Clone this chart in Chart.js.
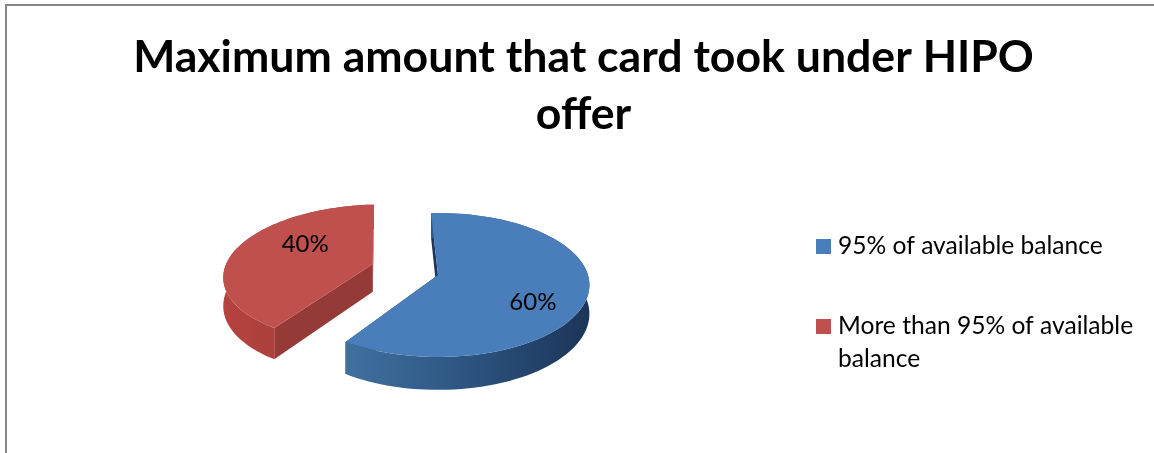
<!DOCTYPE html>
<html lang="en">
<head>
  <meta charset="UTF-8" />
  <title>Maximum amount that card took under HIPO offer</title>
  <style>
    html, body { margin: 0; padding: 0; background: #fff; overflow: hidden; }
    .frame { position: absolute; left: 5px; top: 4px; width: 1153px; height: 450px; border: 2px solid #868686; }
    canvas { display: block; }
  </style>
</head>
<body>
  <div class="frame"><canvas id="cardChart" width="1153" height="450"></canvas></div>

  <script src="https://cdn.jsdelivr.net/npm/chart.js"></script>
  <script>
    const titleLines = ['Maximum amount that card took under HIPO', 'offer'];
    const categories = ['95% of available balance', 'More than 95% of available balance'];
    const legendLines = [['95% of available balance'], ['More than 95% of available', 'balance']];
    const values = [60, 40];

    // look of the 3D pie, in the units of the pie radius
    const explode = [0, 0.46];
    const explodeBack = [0, 0.04];
    const pieShiftX = -145.5;
    const scaleX = 1.19, scaleY = 0.56, perspective = 0.139, depth = 0.225;
    const labelSpots = [[0.6, 0.37], [-0.498, -0.3]];
    const labelFont = '24px Lato, sans-serif';
    const legendFont = '24.6px Lato, sans-serif';

    const topColors = ['#4a7ebb', '#c0504d'];
    const edgeColors = ['#1f3559', '#963a38'];
    const wallColors = [['#41719f', '#2c5480', '#1c3558'], ['#b5433f', '#a83f3c', '#a83f3c']];

    function project(arc, u, v, down) {
      const w = 1 - perspective * v;
      return {
        x: arc.x + pieShiftX + arc.outerRadius * scaleX * u / w,
        y: arc.y + arc.outerRadius * (scaleY * v / w + (down ? depth / w : 0))
      };
    }

    function rimPoints(arc, shift, down) {
      const pts = [];
      const steps = 90;
      for (let i = 0; i <= steps; i++) {
        const a = arc.startAngle + (arc.endAngle - arc.startAngle) * i / steps;
        pts.push(project(arc, Math.cos(a) + shift.u, Math.sin(a) + shift.v, down));
      }
      return pts;
    }

    function fillPath(ctx, pts, fill) {
      ctx.beginPath();
      pts.forEach((p, i) => i ? ctx.lineTo(p.x, p.y) : ctx.moveTo(p.x, p.y));
      ctx.closePath();
      ctx.fillStyle = fill;
      ctx.fill();
    }

    const pie3d = {
      id: 'pie3d',
      beforeDatasetsDraw(chart) {
        const ctx = chart.ctx;
        chart.getDatasetMeta(0).data.forEach((arc, i) => {
          const mid = (arc.startAngle + arc.endAngle) / 2;
          const shift = { u: Math.cos(mid) * explode[i], v: Math.sin(mid) * explode[i] - explodeBack[i] };
          const top = rimPoints(arc, shift, false);
          const bottom = rimPoints(arc, shift, true);
          const apexTop = project(arc, shift.u, shift.v, false);
          const apexBottom = project(arc, shift.u, shift.v, true);

          // cut faces
          fillPath(ctx, [apexTop, top[0], bottom[0], apexBottom], edgeColors[i]);
          fillPath(ctx, [apexTop, top[top.length - 1], bottom[bottom.length - 1], apexBottom], edgeColors[i]);

          // outer wall
          const xs = top.map(p => p.x);
          const wall = ctx.createLinearGradient(Math.min(...xs), 0, Math.max(...xs), 0);
          wallColors[i].forEach((c, n) => wall.addColorStop(n / 2, c));
          fillPath(ctx, top.concat(bottom.slice().reverse()), wall);

          // top face
          fillPath(ctx, [apexTop].concat(top), topColors[i]);

          // value label
          const spot = project(arc, shift.u + labelSpots[i][0], shift.v + labelSpots[i][1], false);
          ctx.font = labelFont;
          ctx.fillStyle = '#000';
          ctx.textAlign = 'center';
          ctx.textBaseline = 'middle';
          ctx.fillText(Math.round(values[i] / values.reduce((a, b) => a + b) * 100) + '%', spot.x, spot.y);
        });
        return false;
      },
      afterDraw(chart) {
        const ctx = chart.ctx;
        const rows = [[240, 248], [320, 328]];
        ctx.font = legendFont;
        ctx.textAlign = 'left';
        ctx.textBaseline = 'alphabetic';
        legendLines.forEach((lines, i) => {
          ctx.fillStyle = topColors[i];
          ctx.fillRect(809, rows[i][0] - 7, 15, 15);
          ctx.fillStyle = '#000';
          lines.forEach((line, n) => ctx.fillText(line, 831, rows[i][1] + n * 33));
        });
      }
    };

    new Chart(document.getElementById('cardChart').getContext('2d'), {
      type: 'pie',
      data: {
        labels: categories,
        datasets: [{ data: values, backgroundColor: topColors, borderWidth: 0 }]
      },
      options: {
        responsive: false,
        animation: false,
        rotation: -3,
        layout: { padding: { top: 0, bottom: 55 } },
        plugins: {
          legend: { display: false },
          tooltip: { enabled: false },
          title: {
            display: true,
            text: titleLines,
            color: '#000',
            font: { family: 'Lato, sans-serif', size: 44.6, weight: 'bold', lineHeight: 1.278 },
            padding: { top: 23, bottom: 6 }
          }
        }
      },
      plugins: [pie3d]
    });
  </script>
</body>
</html>
